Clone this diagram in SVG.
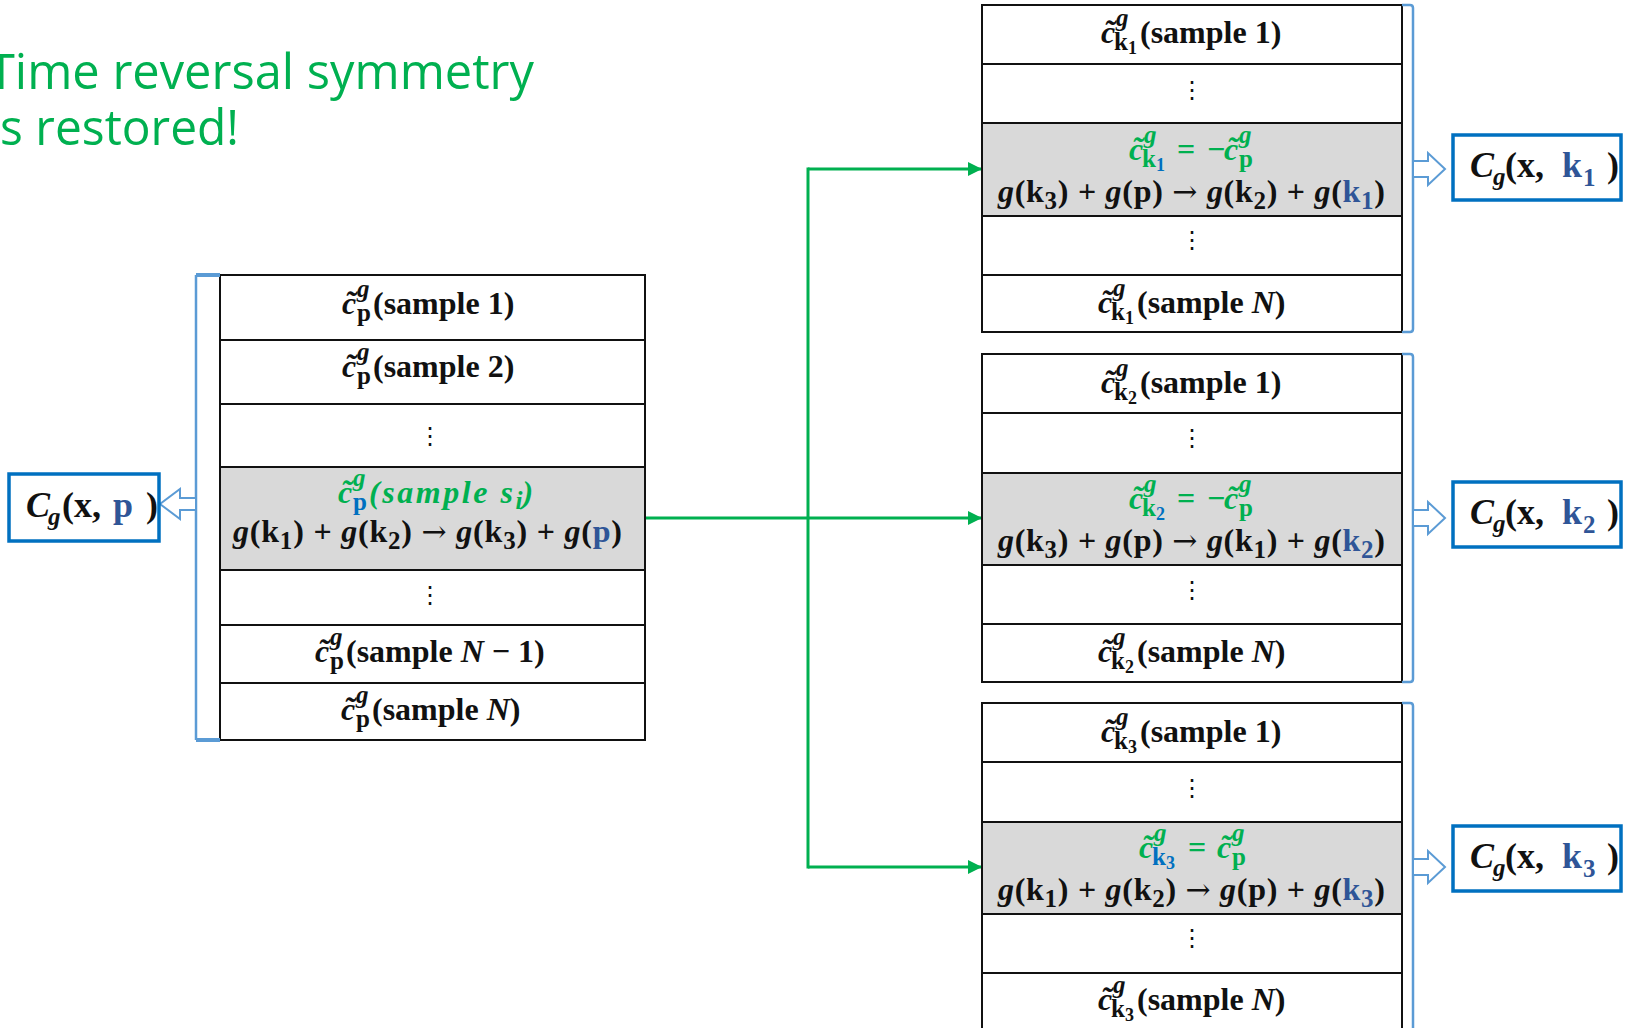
<svg xmlns="http://www.w3.org/2000/svg" width="1629" height="1028" viewBox="0 0 1629 1028">
<defs>
<style>
.title{font-family:"Open Sans","Noto Sans",sans-serif;font-size:50px;fill:#00B050}
.cell{fill:#fff;stroke:#111;stroke-width:2}
.hl{fill:#D9D9D9;stroke:#111;stroke-width:2}
.m{font-family:"Liberation Serif",serif;font-weight:bold;font-size:32px;fill:#111}
.it{font-style:italic}
.sm{font-size:25px}
.xs{font-size:18px}
.arr{font-family:"DejaVu Serif",serif;font-weight:normal;font-size:30px}
.gr{fill:#00B050}
.bl{fill:#0070C0}
.db{fill:#2F5597}
.dots{font-family:"DejaVu Sans",sans-serif;font-size:24px;fill:#111;text-anchor:middle}
.brk{fill:none;stroke:#5B9BD5;stroke-width:2.5}
.tick{fill:none;stroke:#5B9BD5;stroke-width:4}
.harrow{fill:#fff;stroke:#5B9BD5;stroke-width:2}
.box{fill:#fff;stroke:#0070C0;stroke-width:3.5}
.cg{font-family:"Liberation Serif",serif;font-weight:bold;font-size:36px;fill:#111}
.cgs{font-size:25px}
.conn{fill:none;stroke:#00B050;stroke-width:3}
</style>
<marker id="ah" markerWidth="14" markerHeight="14" viewBox="0 0 14 14" refX="14" refY="7" orient="auto" markerUnits="userSpaceOnUse"><path d="M0,0 L14,7 L0,14 z" fill="#00B050"/></marker>
</defs>

<g id="title">
<text class="title" x="-12" y="89" textLength="546" lengthAdjust="spacingAndGlyphs">Time reversal symmetry</text>
<text class="title" x="-12" y="145" textLength="251" lengthAdjust="spacingAndGlyphs">is restored!</text>
</g>

<g id="connectors">
<path class="conn" d="M645,518 H982" marker-end="url(#ah)"/>
<path class="conn" d="M808,169 V867" stroke-linecap="square"/>
<path class="conn" d="M808,169 H982" marker-end="url(#ah)"/>
<path class="conn" d="M808,867 H982" marker-end="url(#ah)"/>
</g>

<g id="table-p">
<rect class="cell" x="220" y="275" width="425" height="65"/>
<rect class="cell" x="220" y="340" width="425" height="64"/>
<rect class="cell" x="220" y="404" width="425" height="63"/>
<rect class="hl" x="220" y="467" width="425" height="103"/>
<rect class="cell" x="220" y="570" width="425" height="55"/>
<rect class="cell" x="220" y="625" width="425" height="58"/>
<rect class="cell" x="220" y="683" width="425" height="57"/>
<text class="m" transform="translate(342,314)"><tspan class="it" x="0" y="0">c</tspan><tspan class="it" x="3" y="-1">˜</tspan><tspan class="it sm" x="15" y="-17">g</tspan><tspan class="sm" x="15" y="7">p</tspan><tspan x="31" y="0">(sample 1)</tspan></text>
<text class="m" transform="translate(342,377)"><tspan class="it" x="0" y="0">c</tspan><tspan class="it" x="3" y="-1">˜</tspan><tspan class="it sm" x="15" y="-17">g</tspan><tspan class="sm" x="15" y="7">p</tspan><tspan x="31" y="0">(sample 2)</tspan></text>
<text class="dots" x="430" y="444">⋮</text>
<text class="m it gr" transform="translate(338,503)"><tspan x="0" y="0">c</tspan><tspan x="3" y="-1">˜</tspan><tspan class="sm" x="15" y="-17">g</tspan><tspan class="sm bl" x="15" y="7" font-style="normal">p</tspan><tspan x="31" y="0" textLength="144" lengthAdjust="spacing">(sample s</tspan><tspan class="sm" dy="6">i</tspan><tspan dy="-6">)</tspan></text>
<text class="m" x="233" y="542" textLength="389" lengthAdjust="spacing"><tspan class="it">g</tspan>(k<tspan class="sm" dy="7">1</tspan><tspan dy="-7">) + </tspan><tspan class="it">g</tspan>(k<tspan class="sm" dy="7">2</tspan><tspan dy="-7">) </tspan><tspan class="arr">→</tspan> <tspan class="it">g</tspan>(k<tspan class="sm" dy="7">3</tspan><tspan dy="-7">) + </tspan><tspan class="it">g</tspan>(<tspan class="db">p</tspan>)</text>
<text class="dots" x="430" y="603">⋮</text>
<text class="m" transform="translate(315,662)"><tspan class="it" x="0" y="0">c</tspan><tspan class="it" x="3" y="-1">˜</tspan><tspan class="it sm" x="15" y="-17">g</tspan><tspan class="sm" x="15" y="7">p</tspan><tspan x="31" y="0">(sample </tspan><tspan class="it">N</tspan><tspan> − 1)</tspan></text>
<text class="m" transform="translate(341,720)"><tspan class="it" x="0" y="0">c</tspan><tspan class="it" x="3" y="-1">˜</tspan><tspan class="it sm" x="15" y="-17">g</tspan><tspan class="sm" x="15" y="7">p</tspan><tspan x="31" y="0">(sample </tspan><tspan class="it">N</tspan><tspan>)</tspan></text>
<path class="brk" d="M196,275 V740"/>
<path class="tick" d="M196,275 H220 M196,740 H220"/>
<path class="harrow" d="M196,498 H180 V489 L160,504 L180,519 V510 H196 z"/>
</g>

<g id="box-p">
<rect class="box" x="9" y="474" width="150" height="67"/>
<text class="cg"><tspan class="it" x="26" y="517">C</tspan><tspan class="it cgs" x="48" y="525">g</tspan><tspan x="62" y="517">(x,</tspan><tspan class="db" x="113" y="517">p</tspan><tspan x="146" y="517">)</tspan></text>
</g>

<g id="table-k1">
<rect class="cell" x="982" y="5" width="420" height="59"/>
<rect class="cell" x="982" y="64" width="420" height="59"/>
<rect class="hl" x="982" y="123" width="420" height="93"/>
<rect class="cell" x="982" y="216" width="420" height="59"/>
<rect class="cell" x="982" y="275" width="420" height="57"/>
<text class="m" transform="translate(1101,43)"><tspan class="it" x="0" y="0">c</tspan><tspan class="it" x="3" y="-1">˜</tspan><tspan class="it sm" x="15" y="-17">g</tspan><tspan class="sm" x="13" y="7">k</tspan><tspan class="xs" x="27" y="11">1</tspan><tspan x="39" y="0">(sample 1)</tspan></text>
<text class="dots" x="1192" y="98">⋮</text>
<text class="m gr" transform="translate(1129,160)"><tspan class="it" x="0" y="0">c</tspan><tspan class="it" x="3" y="-1">˜</tspan><tspan class="it sm" x="15" y="-17">g</tspan><tspan class="sm" x="13" y="7">k</tspan><tspan class="xs bl" x="27" y="11">1</tspan><tspan x="48" y="0">=</tspan><tspan x="78" y="0">−</tspan><tspan class="it" x="95" y="0">c</tspan><tspan class="it" x="98" y="-1">˜</tspan><tspan class="it sm" x="110" y="-17">g</tspan><tspan class="sm" x="110" y="7">p</tspan></text>
<text class="m" x="998" y="202" textLength="387" lengthAdjust="spacing"><tspan class="it">g</tspan>(k<tspan class="sm" dy="7">3</tspan><tspan dy="-7">) + </tspan><tspan class="it">g</tspan>(p) <tspan class="arr">→</tspan> <tspan class="it">g</tspan>(k<tspan class="sm" dy="7">2</tspan><tspan dy="-7">) + </tspan><tspan class="it">g</tspan>(<tspan class="db">k</tspan><tspan class="sm db" dy="7">1</tspan><tspan dy="-7">)</tspan></text>
<text class="dots" x="1192" y="248">⋮</text>
<text class="m" transform="translate(1098,313)"><tspan class="it" x="0" y="0">c</tspan><tspan class="it" x="3" y="-1">˜</tspan><tspan class="it sm" x="15" y="-17">g</tspan><tspan class="sm" x="13" y="7">k</tspan><tspan class="xs" x="27" y="11">1</tspan><tspan x="39" y="0">(sample </tspan><tspan class="it">N</tspan><tspan>)</tspan></text>
<path class="brk" d="M1402,5 H1410 Q1413,5 1413,8 V329 Q1413,332 1410,332 H1402"/>
<path class="harrow" d="M1413,161 H1428 V153 L1445,169 L1428,185 V177 H1413 z"/>
</g>

<g id="box-k1">
<rect class="box" x="1453" y="135" width="168" height="65"/>
<text class="cg"><tspan class="it" x="1470" y="177">C</tspan><tspan class="it cgs" x="1493" y="185">g</tspan><tspan x="1505" y="177">(x,</tspan><tspan class="db" x="1562" y="177">k</tspan><tspan class="db cgs" x="1583" y="186">1</tspan><tspan x="1607" y="177">)</tspan></text>
</g>

<g id="table-k2">
<rect class="cell" x="982" y="354" width="420" height="59"/>
<rect class="cell" x="982" y="413" width="420" height="60"/>
<rect class="hl" x="982" y="473" width="420" height="92"/>
<rect class="cell" x="982" y="565" width="420" height="59"/>
<rect class="cell" x="982" y="624" width="420" height="58"/>
<text class="m" transform="translate(1101,393)"><tspan class="it" x="0" y="0">c</tspan><tspan class="it" x="3" y="-1">˜</tspan><tspan class="it sm" x="15" y="-17">g</tspan><tspan class="sm" x="13" y="7">k</tspan><tspan class="xs" x="27" y="11">2</tspan><tspan x="39" y="0">(sample 1)</tspan></text>
<text class="dots" x="1192" y="446">⋮</text>
<text class="m gr" transform="translate(1129,509)"><tspan class="it" x="0" y="0">c</tspan><tspan class="it" x="3" y="-1">˜</tspan><tspan class="it sm" x="15" y="-17">g</tspan><tspan class="sm" x="13" y="7">k</tspan><tspan class="xs bl" x="27" y="11">2</tspan><tspan x="48" y="0">=</tspan><tspan x="78" y="0">−</tspan><tspan class="it" x="95" y="0">c</tspan><tspan class="it" x="98" y="-1">˜</tspan><tspan class="it sm" x="110" y="-17">g</tspan><tspan class="sm" x="110" y="7">p</tspan></text>
<text class="m" x="998" y="551" textLength="387" lengthAdjust="spacing"><tspan class="it">g</tspan>(k<tspan class="sm" dy="7">3</tspan><tspan dy="-7">) + </tspan><tspan class="it">g</tspan>(p) <tspan class="arr">→</tspan> <tspan class="it">g</tspan>(k<tspan class="sm" dy="7">1</tspan><tspan dy="-7">) + </tspan><tspan class="it">g</tspan>(<tspan class="db">k</tspan><tspan class="sm db" dy="7">2</tspan><tspan dy="-7">)</tspan></text>
<text class="dots" x="1192" y="598">⋮</text>
<text class="m" transform="translate(1098,662)"><tspan class="it" x="0" y="0">c</tspan><tspan class="it" x="3" y="-1">˜</tspan><tspan class="it sm" x="15" y="-17">g</tspan><tspan class="sm" x="13" y="7">k</tspan><tspan class="xs" x="27" y="11">2</tspan><tspan x="39" y="0">(sample </tspan><tspan class="it">N</tspan><tspan>)</tspan></text>
<path class="brk" d="M1402,354 H1410 Q1413,354 1413,357 V679 Q1413,682 1410,682 H1402"/>
<path class="harrow" d="M1413,510 H1428 V502 L1445,518 L1428,534 V526 H1413 z"/>
</g>

<g id="box-k2">
<rect class="box" x="1453" y="482" width="168" height="65"/>
<text class="cg"><tspan class="it" x="1470" y="524">C</tspan><tspan class="it cgs" x="1493" y="532">g</tspan><tspan x="1505" y="524">(x,</tspan><tspan class="db" x="1562" y="524">k</tspan><tspan class="db cgs" x="1583" y="533">2</tspan><tspan x="1607" y="524">)</tspan></text>
</g>

<g id="table-k3">
<rect class="cell" x="982" y="703" width="420" height="59"/>
<rect class="cell" x="982" y="762" width="420" height="60"/>
<rect class="hl" x="982" y="822" width="420" height="92"/>
<rect class="cell" x="982" y="914" width="420" height="59"/>
<rect class="cell" x="982" y="973" width="420" height="58"/>
<text class="m" transform="translate(1101,742)"><tspan class="it" x="0" y="0">c</tspan><tspan class="it" x="3" y="-1">˜</tspan><tspan class="it sm" x="15" y="-17">g</tspan><tspan class="sm" x="13" y="7">k</tspan><tspan class="xs" x="27" y="11">3</tspan><tspan x="39" y="0">(sample 1)</tspan></text>
<text class="dots" x="1192" y="796">⋮</text>
<text class="m gr" transform="translate(1139,858)"><tspan class="it" x="0" y="0">c</tspan><tspan class="it" x="3" y="-1">˜</tspan><tspan class="it sm" x="15" y="-17">g</tspan><tspan class="sm bl" x="13" y="7">k</tspan><tspan class="xs bl" x="27" y="11">3</tspan><tspan x="49" y="0">=</tspan><tspan class="it" x="78" y="0">c</tspan><tspan class="it" x="81" y="-1">˜</tspan><tspan class="it sm" x="93" y="-17">g</tspan><tspan class="sm" x="93" y="7">p</tspan></text>
<text class="m" x="998" y="900" textLength="387" lengthAdjust="spacing"><tspan class="it">g</tspan>(k<tspan class="sm" dy="7">1</tspan><tspan dy="-7">) + </tspan><tspan class="it">g</tspan>(k<tspan class="sm" dy="7">2</tspan><tspan dy="-7">) </tspan><tspan class="arr">→</tspan> <tspan class="it">g</tspan>(p) + <tspan class="it">g</tspan>(<tspan class="db">k</tspan><tspan class="sm db" dy="7">3</tspan><tspan dy="-7">)</tspan></text>
<text class="dots" x="1192" y="946">⋮</text>
<text class="m" transform="translate(1098,1010)"><tspan class="it" x="0" y="0">c</tspan><tspan class="it" x="3" y="-1">˜</tspan><tspan class="it sm" x="15" y="-17">g</tspan><tspan class="sm" x="13" y="7">k</tspan><tspan class="xs" x="27" y="11">3</tspan><tspan x="39" y="0">(sample </tspan><tspan class="it">N</tspan><tspan>)</tspan></text>
<path class="brk" d="M1402,703 H1410 Q1413,703 1413,706 V1040"/>
<path class="harrow" d="M1413,859 H1428 V851 L1445,867 L1428,883 V875 H1413 z"/>
</g>

<g id="box-k3">
<rect class="box" x="1453" y="826" width="168" height="65"/>
<text class="cg"><tspan class="it" x="1470" y="868">C</tspan><tspan class="it cgs" x="1493" y="876">g</tspan><tspan x="1505" y="868">(x,</tspan><tspan class="db" x="1562" y="868">k</tspan><tspan class="db cgs" x="1583" y="877">3</tspan><tspan x="1607" y="868">)</tspan></text>
</g>
</svg>
